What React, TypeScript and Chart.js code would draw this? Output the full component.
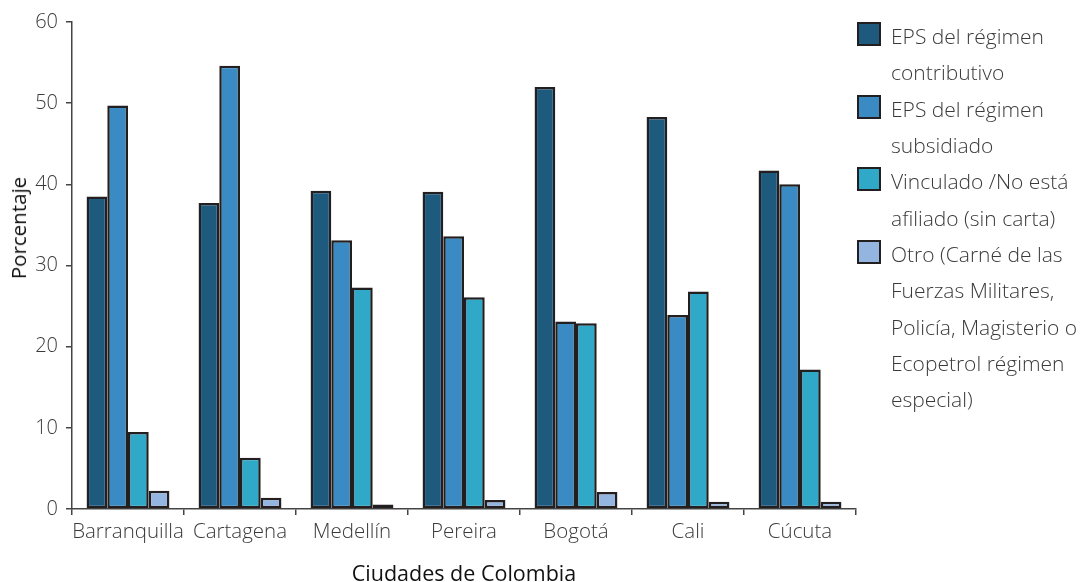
import React, { useEffect, useRef } from "react";
import { Chart, registerables } from "chart.js";

Chart.register(...registerables);

const categories = ["Barranquilla", "Cartagena", "Medellín", "Pereira", "Bogotá", "Cali", "Cúcuta"];
const contributivo = [38.5, 37.7, 39.2, 39.1, 52.0, 48.3, 41.7];
const subsidiado = [49.7, 54.6, 33.1, 33.6, 23.1, 23.9, 40.0];
const vinculado = [9.5, 6.3, 27.3, 26.1, 22.9, 26.8, 17.2];
const otro = [2.25, 1.4, 0.55, 1.1, 2.1, 0.9, 0.9];
const seriesLabels = [
  ["EPS del régimen", "contributivo"],
  ["EPS del régimen", "subsidiado"],
  ["Vinculado /No está", "afiliado (sin carta)"],
  ["Otro (Carné de las", "Fuerzas Militares,", "Policía, Magisterio o", "Ecopetrol régimen", "especial)"],
];
const seriesColors = ["#1d5a7e", "#3a8bc4", "#30a9c9", "#94b5df"];
const yTicks = [0, 10, 20, 30, 40, 50, 60];
const xTitle = "Ciudades de Colombia";
const yTitle = "Porcentaje";

const FONT = "'Open Sans', 'Noto Sans', sans-serif";
const TEXT = "#3a3a3a";
const BORDER = "#231f20";

export default function App() {
  const ref = useRef<HTMLCanvasElement | null>(null);
  useEffect(() => {
    if (!ref.current) return;
    const values = [contributivo, subsidiado, vinculado, otro];
    const chart = new Chart(ref.current, {
      type: "bar",
      data: {
        labels: categories,
        datasets: values.map((v, i) => ({
          label: seriesLabels[i].join(" "),
          data: v,
          backgroundColor: seriesColors[i],
          borderColor: BORDER,
          borderWidth: 2.5,
          borderSkipped: false,
          categoryPercentage: 0.74,
          barPercentage: 1.0,
        })),
      },
      options: {
        animation: false,
        responsive: false,
        maintainAspectRatio: false,
        layout: { padding: { left: 4, top: 22, right: 227, bottom: 0 } },
        plugins: { legend: { display: false }, tooltip: { enabled: false } },
        scales: {
          x: {
            grid: { drawOnChartArea: false, offset: true, tickLength: 6, color: "#444", lineWidth: 1.5 },
            border: { color: "#444", width: 1.5 },
            ticks: { color: TEXT, font: { family: FONT, size: 20.5, weight: "300" }, padding: 5, maxRotation: 0, autoSkip: false },
            title: { display: true, text: xTitle, color: "#111", font: { family: FONT, size: 21.5 }, padding: { top: 4, bottom: -6 } },
            afterFit: (s: any) => { s.height = 73; },
          },
          y: {
            min: 0,
            max: 60,
            afterBuildTicks: (s: any) => { s.ticks = yTicks.map((v) => ({ value: v })); },
            grid: { drawOnChartArea: false, tickLength: 6, color: "#444", lineWidth: 1.5 },
            border: { color: "#444", width: 1.5 },
            ticks: { color: TEXT, font: { family: FONT, size: 20, weight: "300" }, padding: 8 },
            title: { display: false },
            afterFit: (s: any) => { s.width = 68; },
          },
        },
      },
    });
    return () => chart.destroy();
  }, []);

  return (
    <div style={{ position: "fixed", left: 0, top: 0, width: 1083, height: 582, background: "#fff", overflow: "hidden" }}>
      <canvas ref={ref} width={1083} height={582} style={{ position: "absolute", left: 0, top: 0, width: 1083, height: 582 }} />
      <div
        style={{
          position: "absolute",
          left: 18,
          top: 228,
          transform: "translate(-50%, -50%) rotate(-90deg)",
          fontFamily: FONT,
          fontSize: 20.5,
          color: "#111",
          whiteSpace: "nowrap",
          lineHeight: "24px",
        }}
      >
        {yTitle}
      </div>
      <div style={{ position: "absolute", left: 857, top: 18, fontFamily: FONT, fontSize: 21, fontWeight: 300, color: TEXT }}>
        {seriesLabels.map((lines, i) => (
          <div key={i} style={{ position: "relative", height: 72.7, paddingLeft: 34 }}>
            <div
              style={{
                position: "absolute",
                left: 0,
                top: 4,
                width: 20,
                height: 20,
                background: seriesColors[i],
                border: `2.5px solid ${BORDER}`,
              }}
            />
            {lines.map((l, j) => (
              <div key={j} style={{ lineHeight: "36.3px", whiteSpace: "nowrap" }}>{l}</div>
            ))}
          </div>
        ))}
      </div>
    </div>
  );
}
